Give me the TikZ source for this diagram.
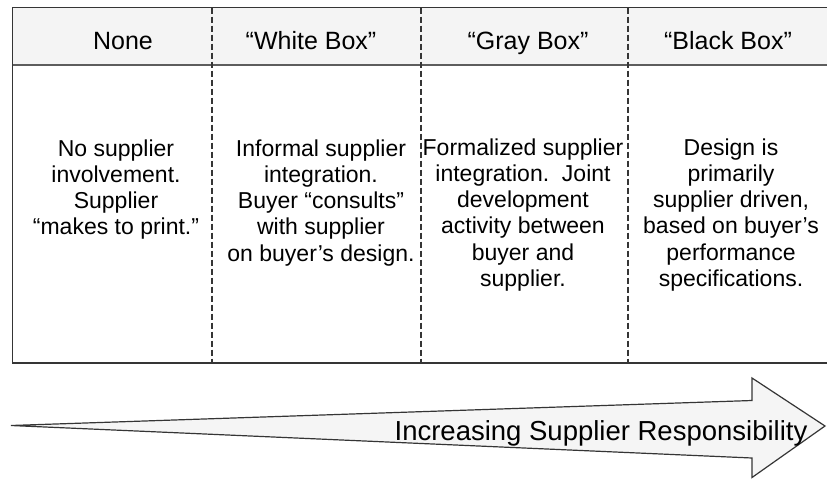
\documentclass[tikz,border=0pt]{standalone}
\usepackage{fontspec}
\setmainfont{Liberation Sans}
\definecolor{framecol}{HTML}{353535}
\definecolor{headfill}{HTML}{F4F4F4}
\definecolor{arrowfill}{HTML}{F5F5F5}
\tikzset{
  frameline/.style={draw=framecol, line width=1.6pt},
  divline/.style={draw=framecol, line width=1.4pt, dash pattern=on 6pt off 3pt},
  headtext/.style={anchor=base, inner sep=0pt, font=\fontsize{25}{30}\selectfont},
  bodytext/.style={anchor=base, inner sep=0pt, font=\fontsize{23}{26.3}\selectfont},
  arrowtext/.style={anchor=base, inner sep=0pt, font=\fontsize{27.5}{32}\selectfont},
}
\begin{document}
\begin{tikzpicture}[x=1pt, y=-1pt]
\useasboundingbox (0,0) rectangle (827,479);
% table
\fill[headfill] (12.5,7.5) rectangle (827,65);
\draw[frameline] (827,7.5) -- (12.5,7.5) -- (12.5,363) -- (827,363);
\draw[frameline, draw=framecol!80] (12.5,65) -- (827,65);
\foreach \xx in {212,421,628}{
  \draw[divline] (\xx,7.5) -- (\xx,363);
}
% headers
\node[headtext] (h1) at (123,49) {None};
\node[headtext] (h2) at (311,49) {“White Box”};
\node[headtext] (h3) at (528,49) {“Gray Box”};
\node[headtext] (h4) at (728,49) {“Black Box”};
% bodies
\node[bodytext] (b1) at (116,156) {\begin{tabular}[t]{@{}c@{}}No supplier\\involvement.\\Supplier\\“makes to print.”\end{tabular}};
\node[bodytext] (b2) at (321,156) {\begin{tabular}[t]{@{}c@{}}Informal supplier\\integration.\\Buyer “consults”\\with supplier\\on buyer’s design.\end{tabular}};
\node[bodytext] (b3) at (523,155) {\begin{tabular}[t]{@{}c@{}}Formalized supplier\\integration.\ \ Joint\\development\\activity between\\buyer and\\supplier.\end{tabular}};
\node[bodytext] (b4) at (731,155) {\begin{tabular}[t]{@{}c@{}}Design is\\primarily\\supplier driven,\\based on buyer’s\\performance\\specifications.\end{tabular}};
% arrow
\draw[draw=framecol, fill=arrowfill, line width=1.2pt, line join=miter]
  (11,425.5) -- (752,400.5) -- (752,378) -- (825,426) -- (752,477.5) -- (752,458) -- cycle;
\node[arrowtext] (at) at (601,440) {Increasing Supplier Responsibility};
\end{tikzpicture}
\end{document}
